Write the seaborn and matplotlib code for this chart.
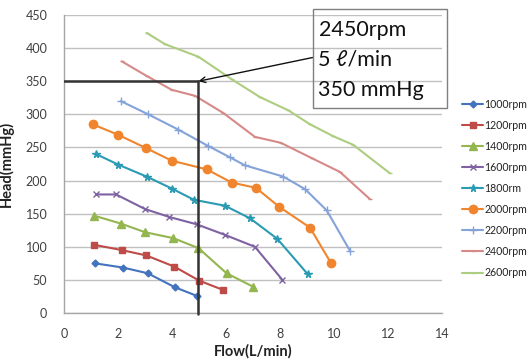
import matplotlib
matplotlib.use("Agg")
import matplotlib.pyplot as plt
from matplotlib.patches import Rectangle
import seaborn as sns
import pandas as pd

# ---- data ----
series_names = ["1000rpm", "1200rpm", "1400rpm", "1600rpm", "1800rm",
                "2000rpm", "2200rpm", "2400rpm", "2600rpm"]

flow_1000 = [1.15, 2.2, 3.1, 4.1, 4.91]
head_1000 = [75, 68.5, 60, 39, 26]

flow_1200 = [1.11, 2.14, 3.04, 4.09, 5.0, 5.88]
head_1200 = [103, 95, 87, 70, 49, 35]

flow_1400 = [1.11, 2.11, 3.0, 4.05, 4.98, 6.02, 6.99]
head_1400 = [147, 135, 122, 113, 98, 60, 40]

flow_1600 = [1.19, 1.93, 3.0, 3.9, 4.91, 5.96, 7.07, 8.09]
head_1600 = [179, 179, 157, 145, 134, 118, 100, 50]

flow_1800 = [1.19, 2.01, 3.06, 3.99, 4.81, 5.96, 6.89, 7.9, 9.02]
head_1800 = [240, 224, 206, 188, 171, 162, 143, 112, 59]

flow_2000 = [1.06, 2.01, 3.04, 3.99, 5.28, 6.21, 7.11, 7.98, 9.11, 9.88]
head_2000 = [285, 269, 249, 230, 217, 197, 189, 160, 129, 76]

flow_2200 = [2.1, 3.12, 4.23, 5.35, 6.15, 6.7, 8.12, 8.93, 9.73, 10.59]
head_2200 = [320, 300, 277, 252, 235, 223, 206, 187, 155, 94]

flow_2400 = [2.14, 3.06, 3.99, 4.85, 5.9, 7.07, 8.03, 9.17, 10.22, 11.33]
head_2400 = [380, 358, 337, 328, 302, 266, 257, 234, 213, 172]

flow_2600 = [3.06, 3.74, 4.98, 6.21, 7.26, 8.31, 9.11, 9.97, 10.71, 12.07]
head_2600 = [423, 406, 387, 353, 326, 306, 285, 267, 254, 211]

x_ticks = [0, 2, 4, 6, 8, 10, 12, 14]
y_ticks = [0, 50, 100, 150, 200, 250, 300, 350, 400, 450]

op_flow = 4.95
op_head = 350
annot_lines = ["2450rpm", "5 \u2113/min", "350 mmHg"]

# ---- build table ----
flows = [flow_1000, flow_1200, flow_1400, flow_1600, flow_1800,
         flow_2000, flow_2200, flow_2400, flow_2600]
heads = [head_1000, head_1200, head_1400, head_1600, head_1800,
         head_2000, head_2200, head_2400, head_2600]
rows = []
for name, fl, hd in zip(series_names, flows, heads):
    for i, (f, h) in enumerate(zip(fl, hd)):
        rows.append({"series": name, "flow": f, "head": h, "order": i})
df = pd.DataFrame(rows)

colors = ["#4473BE", "#BE4B48", "#93B64F", "#7E62A1", "#2B9BB3",
          "#F0852D", "#84A3D8", "#D58A88", "#ADCD80"]
markers = ["D", "s", "^", "x", "*", "o", "+", "_", "_"]
msizes = [3.5, 5, 5.5, 4.5, 5.5, 6, 5.5, 3.5, 3.5]

sns.set_theme(style="white")
plt.rcParams["font.family"] = ["Lato", "DejaVu Sans"]

fig = plt.figure(figsize=(5.31, 3.62), dpi=100)
ax = fig.add_axes([64 / 531, 1 - 313 / 362, (442 - 64) / 531, (313 - 15) / 362])

for name, c, m, ms in zip(series_names, colors, markers, msizes):
    sub = df[df["series"] == name]
    sns.lineplot(data=sub, x="flow", y="head", ax=ax, sort=False,
                 color=c, marker=m, markersize=ms, linewidth=1.5,
                 markeredgecolor=c, markeredgewidth=1.0, label=name,
                 estimator=None)

ax.set_xlim(0, 14)
ax.set_ylim(0, 450)
ax.set_xticks(x_ticks)
ax.set_yticks(y_ticks)
ax.tick_params(axis="x", labelsize=9, colors="#404040", length=0, pad=11)
ax.tick_params(axis="y", labelsize=9, colors="#404040", length=0, pad=12)
ax.yaxis.grid(True, color="#C0C0C0", linewidth=1)
ax.xaxis.grid(False)
for s in ["top", "right"]:
    ax.spines[s].set_visible(False)
for s in ["left", "bottom"]:
    ax.spines[s].set_color("#A6A6A6")
    ax.spines[s].set_linewidth(1)

ax.set_xlabel("Flow(L/min)", fontsize=10.5, fontweight="bold", color="#222222", labelpad=3)
ax.set_ylabel("Head(mmHg)", fontsize=10.5, fontweight="bold", color="#222222", labelpad=8)

# operating point guide lines
ax.plot([0, op_flow], [op_head, op_head], color="#333333", lw=1.8, zorder=5)
ax.plot([op_flow, op_flow], [op_head, -2], color="#333333", lw=1.8, zorder=5, clip_on=False)

# annotation box + arrow
box_x0, box_y0 = 312.7 / 531, 1 - 107.7 / 362
box_w, box_h = (447.3 - 312.7) / 531, (107.7 - 9.3) / 362
fig.patches.append(Rectangle((box_x0, box_y0), box_w, box_h, transform=fig.transFigure,
                             facecolor="none", edgecolor="#7F7F7F", lw=1.0))
for i, t in enumerate(annot_lines):
    fig.text(318.5 / 531, 1 - (30 + 30 * i) / 362, t, fontsize=15.5, color="#111111",
             va="center", ha="left", family=["Lato", "DejaVu Sans"])
ax.annotate("", xy=(op_flow + 0.03, op_head), xycoords="data",
            xytext=(box_x0, 1 - 57.5 / 362), textcoords="figure fraction",
            arrowprops=dict(arrowstyle="->", color="#111111", lw=1.0,
                            shrinkA=0, shrinkB=0, mutation_scale=10),
            annotation_clip=False)

leg = ax.legend(loc="upper left", bbox_to_anchor=(462 / 531, 1 - 99 / 362),
                bbox_transform=fig.transFigure, frameon=False, fontsize=7.6,
                handlelength=2.0, handletextpad=0.1, labelspacing=0.95,
                borderaxespad=0, borderpad=0)
for txt in leg.get_texts():
    txt.set_color("#222222")

fig.savefig("out.png", dpi=100)
